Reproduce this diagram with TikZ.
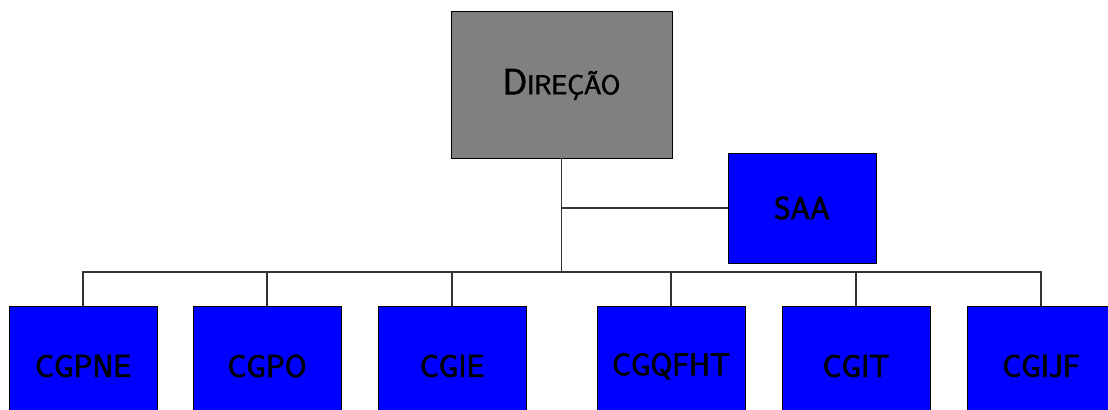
\documentclass[tikz,border=0pt]{standalone}
\usepackage{fontspec}
\newfontfamily\boxfont[FakeBold=2.5]{Latin Modern Sans}
\usetikzlibrary{positioning, calc}

\begin{document}
\begin{tikzpicture}[x=1pt,y=1pt,
    unit/.style={draw=black, fill=blue, minimum width=74pt, minimum height=60pt, inner sep=0pt,
      font=\boxfont\fontsize{15.7}{18}\selectfont},
    head/.style={draw=black, fill=gray, minimum width=110.5pt, minimum height=73.5pt, inner sep=0pt,
      font=\boxfont\fontsize{18}{21}\selectfont},
    link/.style={draw=black!80, line width=0.6pt}]
  \useasboundingbox (0,0) rectangle (554,204.5);
  \node[head] (D) at (280.75,162.25) {D{\fontsize{13.5}{15}\selectfont IREÇÃO}};
  \node[unit, minimum height=55pt] (SAA) at (401,100.5) {SAA};
  \coordinate (B) at (280.75,68.5);
  \foreach \x\n in {41.5/CGPNE,133.5/CGPO,226/CGIE,335.5/CGQFHT,428/CGIT,520.5/CGIJF} {
    \node[unit] (U\n) at (\x,21.5) {\n};
    \draw[link] (U\n.north) |- (B);
  }
  \draw[link] (D) -- (B);
  \draw[link] (D|-SAA) -- (SAA);
\end{tikzpicture}
\end{document}
